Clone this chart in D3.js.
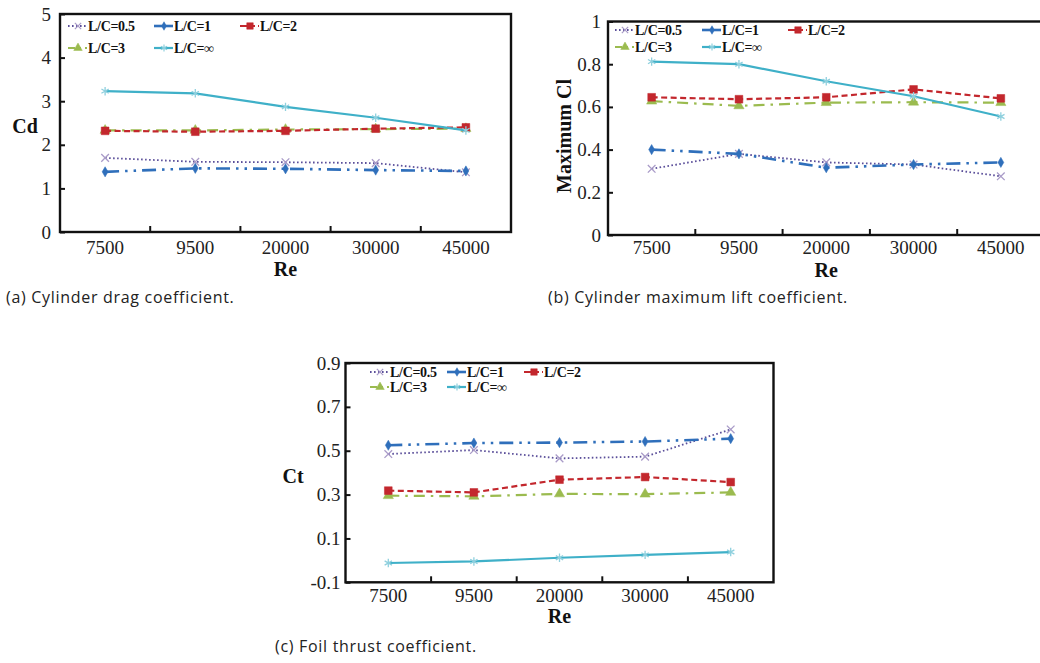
<!DOCTYPE html>
<html><head><meta charset="utf-8">
<script src="https://cdn.jsdelivr.net/npm/d3@7"></script>
<style>
html,body{margin:0;padding:0;background:#fff;}
svg{display:block;}
</style></head>
<body>
<svg id="c" width="1040" height="663"></svg>
<script>
// ---------- DATA ----------
const categories = ["7500", "9500", "20000", "30000", "45000"];
const seriesNames = ["L/C=0.5", "L/C=1", "L/C=2", "L/C=3", "L/C=\u221E"];

// (a) Cylinder drag coefficient Cd
const cd_LC05 = [1.70, 1.61, 1.60, 1.58, 1.37];
const cd_LC1  = [1.38, 1.46, 1.45, 1.42, 1.40];
const cd_LC2  = [2.32, 2.30, 2.32, 2.37, 2.40];
const cd_LC3  = [2.33, 2.33, 2.35, 2.36, 2.37];
const cd_LCinf = [3.23, 3.18, 2.87, 2.62, 2.33];
const cdTicks = [0, 1, 2, 3, 4, 5];
const cdTickLabels = ["0", "1", "2", "3", "4", "5"];

// (b) Cylinder maximum lift coefficient
const cl_LC05 = [0.31, 0.38, 0.34, 0.33, 0.275];
const cl_LC1  = [0.40, 0.38, 0.315, 0.33, 0.34];
const cl_LC2  = [0.645, 0.636, 0.645, 0.682, 0.64];
const cl_LC3  = [0.627, 0.605, 0.62, 0.622, 0.62];
const cl_LCinf = [0.812, 0.80, 0.72, 0.65, 0.555];
const clTicks = [0, 0.2, 0.4, 0.6, 0.8, 1];
const clTickLabels = ["0", "0.2", "0.4", "0.6", "0.8", "1"];

// (c) Foil thrust coefficient Ct
const ct_LC05 = [0.485, 0.503, 0.465, 0.473, 0.597];
const ct_LC1  = [0.525, 0.535, 0.537, 0.542, 0.555];
const ct_LC2  = [0.318, 0.31, 0.368, 0.38, 0.357];
const ct_LC3  = [0.295, 0.292, 0.303, 0.302, 0.31];
const ct_LCinf = [-0.012, -0.005, 0.012, 0.025, 0.038];
const ctTicks = [-0.1, 0.1, 0.3, 0.5, 0.7, 0.9];
const ctTickLabels = ["-0.1", "0.1", "0.3", "0.5", "0.7", "0.9"];

// ---------- STYLES ----------
const styles = {
  "L/C=0.5": {color: "#5b4f9a", width: 1.8, dash: "1.6,2.4", legDash: "1.6,2.4", sym: d3.symbolTimes, symSize: 40, fill: "none", mstroke: "#a99bc8"},
  "L/C=1":   {color: "#2f6fbb", width: 2.6, dash: "14,6,2.5,6,2.5,6", legDash: null, sym: d3.symbolDiamond, symSize: 30, fill: "#2f6fbb", mstroke: "#2f6fbb"},
  "L/C=2":   {color: "#c3272d", width: 2.2, dash: "6,3.5", legDash: "9,3,3,3", sym: d3.symbolSquare, symSize: 60, fill: "#c3272d", mstroke: "#c3272d"},
  "L/C=3":   {color: "#9bbb4f", width: 2.2, dash: "11,6,2.5,6", legDash: "7,4,2,4", sym: d3.symbolTriangle, symSize: 45, fill: "#9bbb4f", mstroke: "#9bbb4f"},
  "L/C=\u221E": {color: "#3fb0c8", width: 2.2, dash: null, legDash: null, sym: d3.symbolAsterisk, symSize: 50, fill: "none", mstroke: "#8fd0de"}
};
const drawOrder = ["L/C=0.5", "L/C=1", "L/C=3", "L/C=2", "L/C=\u221E"];

const svg = d3.select("#c");
const serif = "'Liberation Serif', 'Times New Roman', serif";
const capFont = "'Open Sans', 'Noto Sans', sans-serif";

function drawPanel(cfg) {
  const g = svg.append("g");
  const x = d3.scaleBand().domain(categories).range([cfg.left, cfg.right]).paddingInner(0).paddingOuter(0);
  const y = d3.scaleLinear().domain(cfg.domain).range([cfg.bottom, cfg.top]);

  // frame
  g.append("rect").attr("x", cfg.left).attr("y", cfg.top)
    .attr("width", cfg.right - cfg.left).attr("height", cfg.bottom - cfg.top)
    .attr("fill", "none").attr("stroke", "#111").attr("stroke-width", 2.4);

  // y axis
  const yAxis = d3.axisLeft(y).tickValues(cfg.ticks)
    .tickFormat((d, i) => cfg.tickLabels[i]).tickSizeInner(-5).tickSizeOuter(0).tickPadding(cfg.yPad);
  const ya = g.append("g").attr("transform", `translate(${cfg.left},0)`).call(yAxis)
    .attr("font-family", serif).attr("font-size", 19);
  ya.select(".domain").remove();
  ya.selectAll(".tick line").attr("stroke", "#111").attr("stroke-width", 2);
  ya.selectAll(".tick text").attr("fill", "#222");

  // x axis labels
  const xAxis = d3.axisBottom(x).tickSize(0).tickPadding(cfg.xPad);
  const xa = g.append("g").attr("transform", `translate(0,${cfg.bottom})`).call(xAxis)
    .attr("font-family", serif).attr("font-size", 19);
  xa.select(".domain").remove();
  xa.selectAll(".tick text").attr("fill", "#222");
  // x tick marks at band boundaries (inward)
  g.selectAll(".xb").data(categories.slice(1)).enter().append("line")
    .attr("x1", d => x(d)).attr("x2", d => x(d))
    .attr("y1", cfg.bottom).attr("y2", cfg.bottom - 6)
    .attr("stroke", "#111").attr("stroke-width", 2);

  // axis titles
  g.append("text").attr("x", (cfg.left + cfg.right) / 2 + cfg.reDx).attr("y", cfg.reY)
    .attr("text-anchor", "middle").attr("font-family", serif).attr("font-weight", "bold")
    .attr("font-size", 20).attr("fill", "#111").text("Re");
  if (cfg.yRot) {
    g.append("text").attr("transform", `translate(${cfg.yLabelX},${cfg.yLabelY}) rotate(-90)`)
      .attr("text-anchor", "middle").attr("font-family", serif).attr("font-weight", "bold")
      .attr("font-size", 20).attr("fill", "#111").text(cfg.yLabel);
  } else {
    g.append("text").attr("x", cfg.yLabelX).attr("y", cfg.yLabelY)
      .attr("text-anchor", "middle").attr("font-family", serif).attr("font-weight", "bold")
      .attr("font-size", 20).attr("fill", "#111").text(cfg.yLabel);
  }

  // series
  const line = d3.line().x((d, i) => x(categories[i]) + x.bandwidth() / 2).y(d => y(d));
  drawOrder.forEach(name => {
    const s = styles[name];
    const vals = cfg.series[name];
    g.append("path").datum(vals).attr("d", line).attr("fill", "none")
      .attr("stroke", s.color).attr("stroke-width", s.width)
      .attr("stroke-dasharray", s.dash);
    g.selectAll(null).data(vals).enter().append("path")
      .attr("transform", (d, i) => `translate(${x(categories[i]) + x.bandwidth() / 2},${y(d)})`)
      .attr("d", d3.symbol().type(s.sym).size(s.symSize))
      .attr("fill", s.fill).attr("stroke", s.mstroke).attr("stroke-width", s.fill === "none" ? 1.3 : 0.5);
  });

  // legend
  const lg = g.append("g");
  seriesNames.forEach((name, i) => {
    const s = styles[name];
    const col = i % 3, row = Math.floor(i / 3);
    const sx = cfg.legX[col], ty = cfg.legY[row];
    const cy = ty - 5;
    lg.append("line").attr("x1", sx).attr("x2", sx + 19).attr("y1", cy).attr("y2", cy)
      .attr("stroke", s.color).attr("stroke-width", s.width)
      .attr("stroke-dasharray", s.legDash);
    lg.append("path").attr("transform", `translate(${sx + 10},${cy})`)
      .attr("d", d3.symbol().type(s.sym).size(s.symSize * 0.7))
      .attr("fill", s.fill).attr("stroke", s.mstroke).attr("stroke-width", s.fill === "none" ? 1.2 : 0.5);
    lg.append("text").attr("x", sx + 20).attr("y", ty)
      .attr("font-family", serif).attr("font-weight", "bold").attr("font-size", 14)
      .attr("letter-spacing", -0.3).attr("fill", "#111").text(name);
  });

  // caption
  g.append("text").attr("x", cfg.capX).attr("y", cfg.capY)
    .attr("font-family", capFont).attr("font-size", 16).attr("letter-spacing", 0.7)
    .attr("fill", "#222").text(cfg.caption);
}

drawPanel({
  left: 60, right: 511, top: 14, bottom: 232, domain: [0, 5],
  ticks: cdTicks, tickLabels: cdTickLabels, yPad: 9, xPad: 9,
  reY: 276, reDx: 0, yLabel: "Cd", yRot: false, yLabelX: 25, yLabelY: 133,
  series: {"L/C=0.5": cd_LC05, "L/C=1": cd_LC1, "L/C=2": cd_LC2, "L/C=3": cd_LC3, "L/C=\u221E": cd_LCinf},
  legX: [68, 154, 240], legY: [31, 53],
  caption: "(a) Cylinder drag coefficient.", capX: 6, capY: 303
});

drawPanel({
  left: 608, right: 1044.5, top: 21.5, bottom: 235, domain: [0, 1],
  ticks: clTicks, tickLabels: clTickLabels, yPad: 7, xPad: 6,
  reY: 277, reDx: 0, yLabel: "Maximum Cl", yRot: true, yLabelX: 571, yLabelY: 136,
  series: {"L/C=0.5": cl_LC05, "L/C=1": cl_LC1, "L/C=2": cl_LC2, "L/C=3": cl_LC3, "L/C=\u221E": cl_LCinf},
  legX: [615, 702, 788], legY: [35, 52],
  caption: "(b) Cylinder maximum lift coefficient.", capX: 548, capY: 303
});

drawPanel({
  left: 345.5, right: 773.5, top: 363, bottom: 582.3, domain: [-0.1, 0.9],
  ticks: ctTicks, tickLabels: ctTickLabels, yPad: 5, xPad: 6,
  reY: 623, reDx: 0, yLabel: "Ct", yRot: false, yLabelX: 293, yLabelY: 483,
  series: {"L/C=0.5": ct_LC05, "L/C=1": ct_LC1, "L/C=2": ct_LC2, "L/C=3": ct_LC3, "L/C=\u221E": ct_LCinf},
  legX: [370, 447, 524], legY: [377, 392],
  caption: "(c) Foil thrust coefficient.", capX: 275, capY: 652
});
</script>
</body></html>
